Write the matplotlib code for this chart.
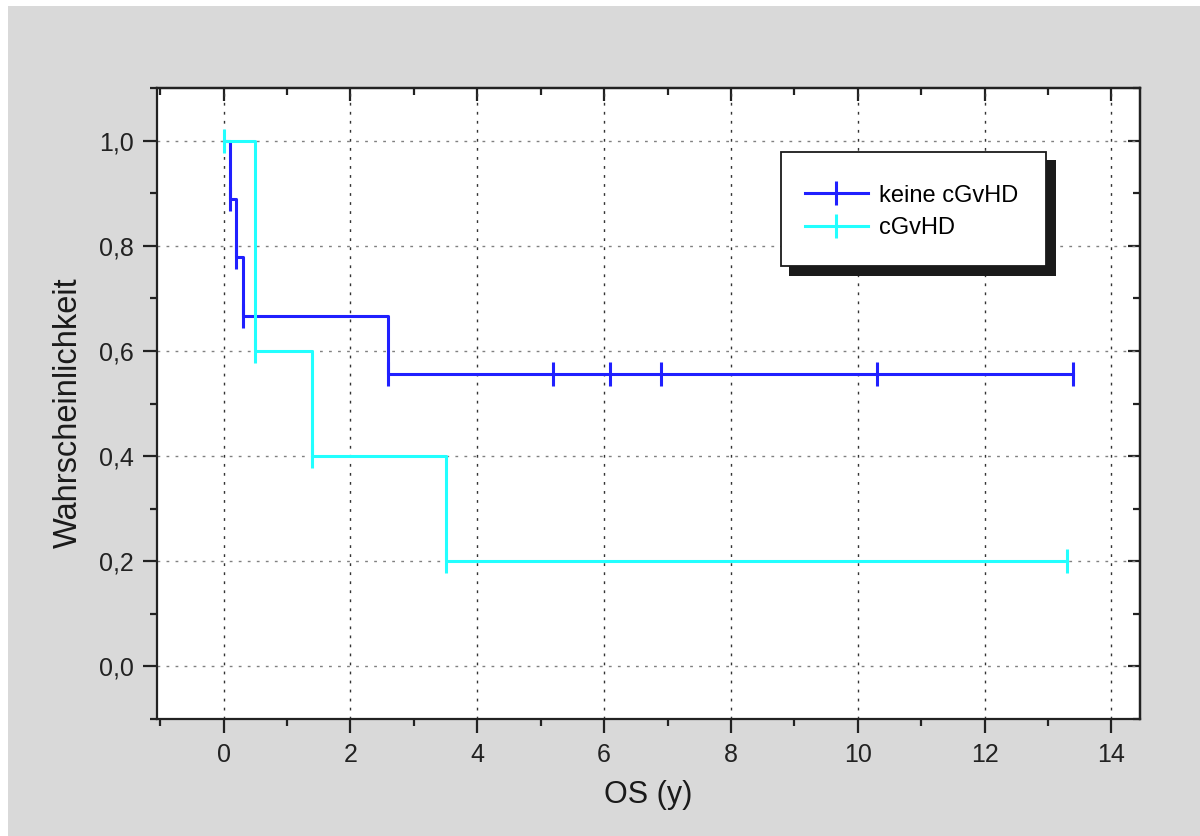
import numpy as np
import matplotlib.pyplot as plt
from matplotlib.lines import Line2D
from matplotlib.patches import Rectangle
from matplotlib.ticker import MultipleLocator

plt.rcParams['font.family'] = ['Liberation Sans', 'DejaVu Sans']

# Kaplan-Meier steps (time in years, survival probability)
keine_t = [0.0, 0.1, 0.2, 0.3, 2.6, 13.4]
keine_s = [1.0, 0.889, 0.778, 0.667, 0.556, 0.556]
keine_marks = [0.1, 0.2, 0.3, 2.6, 5.2, 6.1, 6.9, 10.3, 13.4]

cgvhd_t = [0.0, 0.5, 1.4, 3.5, 13.3]
cgvhd_s = [1.0, 0.6, 0.4, 0.2, 0.2]
cgvhd_marks = [0.0, 0.5, 1.4, 3.5, 13.3]

series_names = ['keine cGvHD', 'cGvHD']
series_colors = ['#2020ff', '#22ffff']

xticks = [0, 2, 4, 6, 8, 10, 12, 14]
xtick_labels = ['0', '2', '4', '6', '8', '10', '12', '14']
yticks = [0.0, 0.2, 0.4, 0.6, 0.8, 1.0]
ytick_labels = ['0,0', '0,2', '0,4', '0,6', '0,8', '1,0']


def step_value(t_steps, s_steps, t):
    i = np.searchsorted(t_steps, t, side='right') - 1
    return s_steps[max(i, 0)]


W, H = 1200, 836
fig = plt.figure(figsize=(W / 100, H / 100), dpi=100, facecolor='white')
fig.add_artist(Rectangle((8 / W, 0), 1, 1 - 6 / H, transform=fig.transFigure,
                         facecolor='#d9d9d9', edgecolor='none', zorder=-1))

ax = fig.add_axes([157 / W, 1 - 719 / H, (1140 - 157) / W, (719 - 88) / H])
ax.set_facecolor('white')

for t, s, marks, col in [(keine_t, keine_s, keine_marks, series_colors[0]),
                         (cgvhd_t, cgvhd_s, cgvhd_marks, series_colors[1])]:
    ax.plot(t, s, drawstyle='steps-post', color=col, lw=2.2, zorder=3)
    my = [step_value(t, s, m) for m in marks]
    ax.plot(marks, my, ls='none', marker='|', ms=17, mew=2.2, color=col, zorder=3)

ax.set_xlim(-1.05, 14.45)
ax.set_ylim(-0.1, 1.1)
ax.set_xticks(xticks)
ax.set_xticklabels(xtick_labels)
ax.set_yticks(yticks)
ax.set_yticklabels(ytick_labels)
ax.xaxis.set_minor_locator(MultipleLocator(1))
ax.yaxis.set_minor_locator(MultipleLocator(0.1))

ax.xaxis.grid(True, which='major', ls=(0, (2, 4.5)), color='#333333', lw=1)
ax.yaxis.grid(True, which='major', ls=(0, (2, 4.5)), color='#808080', lw=1)
ax.set_axisbelow(True)

for sp in ax.spines.values():
    sp.set_linewidth(1.6)
    sp.set_color('#222222')

ax.tick_params(which='major', direction='out', length=10, width=1.6, color='#222222',
               labelsize=18, labelcolor='#222222', pad=7)
ax.tick_params(which='minor', direction='out', length=5, width=1.6, color='#222222')

# inward ticks on top and right
top = ax.secondary_xaxis('top')
top.set_xticks(xticks)
top.xaxis.set_minor_locator(MultipleLocator(1))
top.tick_params(which='major', direction='in', length=9, width=1.6, color='#222222', labeltop=False)
top.tick_params(which='minor', direction='in', length=5, width=1.6, color='#222222')
top.spines['top'].set_linewidth(1.6)
right = ax.secondary_yaxis('right')
right.set_yticks(yticks)
right.yaxis.set_minor_locator(MultipleLocator(0.1))
right.tick_params(which='major', direction='in', length=9, width=1.6, color='#222222', labelright=False)
right.tick_params(which='minor', direction='in', length=5, width=1.6, color='#222222')
right.spines['right'].set_linewidth(1.6)

ax.set_xlabel('OS (y)', fontsize=22, color='#1a1a1a', labelpad=10)
ax.set_ylabel('Wahrscheinlichkeit', fontsize=23.5, color='#1a1a1a')
ax.yaxis.set_label_coords(-73 / (1140 - 157), 0.485)

# legend box with shadow
fig.add_artist(Rectangle((789 / W, 1 - 276 / H), (1056 - 789) / W, (276 - 160) / H,
                         transform=fig.transFigure, facecolor='#1a1a1a', edgecolor='none', zorder=3))
fig.add_artist(Rectangle((781 / W, 1 - 266 / H), (1046 - 781) / W, (266 - 152) / H,
                         transform=fig.transFigure, facecolor='white', edgecolor='#1a1a1a',
                         lw=1.3, zorder=4))
handles = [Line2D([], [], color=c, lw=2.2, marker='|', ms=17, mew=2.2) for c in series_colors]
fig.legend(handles, series_names, loc='center left', bbox_to_anchor=(805 / W, 1 - 212 / H),
           bbox_transform=fig.transFigure, frameon=False, fontsize=17, borderpad=0,
           handlelength=2.65, handletextpad=0.5, labelspacing=0.45, borderaxespad=0)

fig.savefig('out.png', dpi=100)
